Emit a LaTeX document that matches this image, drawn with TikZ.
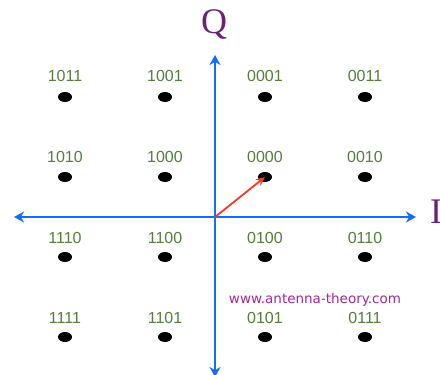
\documentclass[tikz,border=0pt]{standalone}
\usepackage{fontspec}
\setmainfont{Liberation Serif}
\newfontfamily\lblfont{Liberation Sans}
\newfontfamily\webfont{DejaVu Sans}
\usetikzlibrary{arrows.meta}
\definecolor{axisblue}{RGB}{20,110,245}
\definecolor{lblgreen}{RGB}{85,125,60}
\definecolor{qpurple}{RGB}{105,35,115}
\definecolor{webmag}{RGB}{165,40,150}
\definecolor{vecred}{RGB}{245,60,40}
\tikzset{
  pt/.style={ellipse, fill=black, inner sep=0pt, minimum width=14pt, minimum height=10pt},
  lbl/.style={text=lblgreen, font=\lblfont\fontsize{16}{16}\selectfont, inner sep=0pt},
  axis/.style={draw=axisblue, line width=2.6pt, -{Stealth[length=10pt,width=11pt]}},
  vec/.style={draw=vecred, line width=1.8pt, -{Stealth[length=9pt,width=8pt]}},
}
\usetikzlibrary{shapes.geometric}
\begin{document}
\begin{tikzpicture}[x=1pt,y=-1pt]
\useasboundingbox[fill=white] (0,0) rectangle (440,375);
% axes
\coordinate (O) at (215,217);
\coordinate (xl) at (14,217);
\coordinate (xr) at (416,217);
\coordinate (yt) at (215,55);
\coordinate (yb) at (215,377);
\draw[axis] (O) -- (xr);
\draw[axis] (O) -- (xl);
\draw[axis] (O) -- (yt);
\draw[axis] (O) -- (yb);
\node[text=qpurple, font=\fontsize{36}{36}\selectfont, inner sep=0pt] (Q) at (214,24) {Q};
\node[text=qpurple, font=\fontsize{36}{36}\selectfont, inner sep=0pt, anchor=west] (I) at (430,212) {I};
% points
\foreach \c/\cx in {0/65,1/165,2/265,3/365}{
  \foreach \r/\ry/\ly in {0/97/76,1/177/157,2/257/238,3/337/318}{
    \node[pt] (p\c\r) at (\cx,\ry) {};
  }
}
\node[lbl] (l00) at (65,76) {1011};
\node[lbl] (l10) at (165,76) {1001};
\node[lbl] (l20) at (265,76) {0001};
\node[lbl] (l30) at (365,76) {0011};
\node[lbl] (l01) at (65,157) {1010};
\node[lbl] (l11) at (165,157) {1000};
\node[lbl] (l21) at (265,157) {0000};
\node[lbl] (l31) at (365,157) {0010};
\node[lbl] (l02) at (65,238) {1110};
\node[lbl] (l12) at (165,238) {1100};
\node[lbl] (l22) at (265,238) {0100};
\node[lbl] (l32) at (365,238) {0110};
\node[lbl] (l03) at (65,318) {1111};
\node[lbl] (l13) at (165,318) {1101};
\node[lbl] (l23) at (265,318) {0101};
\node[lbl] (l33) at (365,318) {0111};
\draw[vec] (O) -- (p21.center);
\node[text=webmag, font=\webfont\fontsize{13.5}{13.5}\selectfont, inner sep=0pt] (web) at (315,300) {www.antenna-theory.com};
\end{tikzpicture}
\end{document}
